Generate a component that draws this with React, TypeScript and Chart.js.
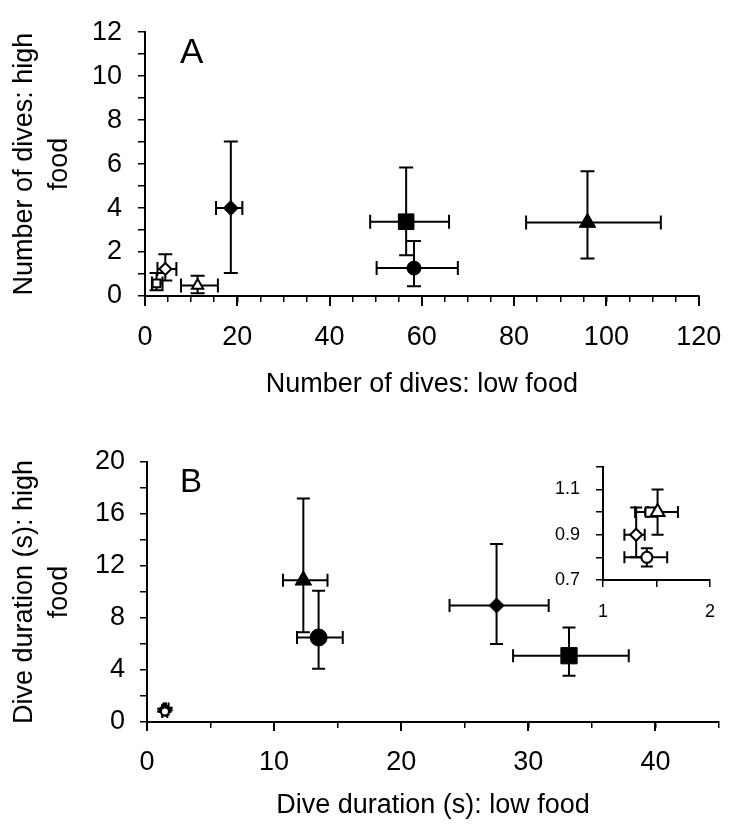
import React, { useEffect, useRef } from 'react';
import { Chart, registerables } from 'chart.js';

Chart.register(...registerables);

const FONT = "'Liberation Sans', Arial, Helvetica, sans-serif";

// ---------- Panel A: number of dives ----------
// order: filled square, filled circle, filled triangle, filled diamond, open square, open diamond, open triangle
const A_x = [56.6, 58.3, 95.9, 18.6, 2.5, 4.4, 11.4];
const A_xLo = [48.8, 50.2, 82.6, 15.4, 1.5, 2.7, 7.8];
const A_xHi = [65.9, 67.8, 111.8, 21.1, 3.8, 6.8, 15.8];
const A_y = [3.38, 1.27, 3.34, 4.0, 0.57, 1.23, 0.48];
const A_yLo = [1.85, 0.44, 1.71, 1.05, 0.26, 0.7, 0.13];
const A_yHi = [5.85, 2.5, 5.67, 7.03, 1.05, 1.9, 0.92];

// ---------- Panel B: dive duration (s) ----------
// order: filled triangle, filled circle, filled diamond, filled square, open square, open triangle, open diamond, open circle
const B_x = [12.3, 13.5, 27.5, 33.2, 1.44, 1.51, 1.31, 1.41];
const B_xLo = [10.7, 11.8, 23.8, 28.8, 1.3, 1.42, 1.2, 1.2];
const B_xHi = [14.2, 15.4, 31.6, 37.9, 1.5, 1.7, 1.39, 1.6];
const B_y = [10.9, 6.5, 8.96, 5.1, 1.0, 1.0, 0.9, 0.8];
const B_yLo = [6.9, 4.1, 6.0, 3.55, 0.99, 0.9, 0.8, 0.76];
const B_yHi = [17.2, 10.1, 13.7, 7.26, 1.01, 1.1, 1.02, 0.84];

// inset shows the open-symbol groups of panel B (indices 4..7)
const INSET_IDX = [4, 5, 6, 7];

// axis labels / titles
const A_xTitle = 'Number of dives: low food';
const A_yTitle = ['Number of dives: high', 'food'];
const B_xTitle = 'Dive duration (s): low food';
const B_yTitle = ['Dive duration (s): high', 'food'];

// ---------- styles ----------
const A_style = {
  shape: ['rect', 'circle', 'triangle', 'rectRot', 'rect', 'rectRot', 'triangle'],
  radius: [11, 7, 9.5, 7.5, 5.5, 6, 6.5],
  fill: ['#000', '#000', '#000', '#000', '#fff', '#fff', '#fff'],
  border: [1, 1, 1, 1, 2, 2, 2],
};
const B_style = {
  shape: ['triangle', 'circle', 'rectRot', 'rect', 'rect', 'triangle', 'rectRot', 'circle'],
  radius: [9.5, 8.5, 7.5, 11.5, 4, 4, 4, 4],
  fill: ['#000', '#000', '#000', '#000', '#fff', '#fff', '#fff', '#fff'],
  border: [1, 1, 1, 1, 2, 2, 2, 2],
};
const I_style = {
  shape: ['rect', 'triangle', 'rectRot', 'circle'],
  radius: [6.5, 8, 6, 5.5],
  fill: ['#fff', '#fff', '#fff', '#fff'],
  border: [2, 2, 2, 2],
};

type Pt = { x: number; y: number; xMin: number; xMax: number; yMin: number; yMax: number };

function points(x: number[], xLo: number[], xHi: number[], y: number[], yLo: number[], yHi: number[], idx?: number[]): Pt[] {
  const ids = idx ?? x.map((_, i) => i);
  return ids.map((i) => ({ x: x[i], y: y[i], xMin: xLo[i], xMax: xHi[i], yMin: yLo[i], yMax: yHi[i] }));
}

const errorBars = {
  id: 'errorBars',
  beforeDatasetsDraw(chart: any, _args: any, opts: any) {
    const { ctx } = chart;
    const xs = chart.scales.x;
    const ys = chart.scales.y;
    const cap = opts.cap ?? 6.5;
    ctx.save();
    ctx.strokeStyle = '#000';
    ctx.lineWidth = opts.lineWidth ?? 2;
    ctx.lineCap = 'butt';
    chart.data.datasets.forEach((ds: any) => {
      ds.data.forEach((p: Pt) => {
        const px = xs.getPixelForValue(p.x);
        const py = ys.getPixelForValue(p.y);
        const x1 = xs.getPixelForValue(p.xMin);
        const x2 = xs.getPixelForValue(p.xMax);
        const y1 = ys.getPixelForValue(p.yMin);
        const y2 = ys.getPixelForValue(p.yMax);
        ctx.beginPath();
        // horizontal
        ctx.moveTo(x1, py);
        ctx.lineTo(x2, py);
        ctx.moveTo(x1, py - cap);
        ctx.lineTo(x1, py + cap);
        ctx.moveTo(x2, py - cap);
        ctx.lineTo(x2, py + cap);
        // vertical
        ctx.moveTo(px, y1);
        ctx.lineTo(px, y2);
        ctx.moveTo(px - cap, y1);
        ctx.lineTo(px + cap, y1);
        ctx.moveTo(px - cap, y2);
        ctx.lineTo(px + cap, y2);
        ctx.stroke();
      });
    });
    ctx.restore();
  },
};

const extras = {
  id: 'extras',
  afterDraw(chart: any, _args: any, opts: any) {
    const { ctx } = chart;
    const xs = chart.scales.x;
    const ys = chart.scales.y;
    ctx.save();
    if (opts.majorStep) {
      ctx.strokeStyle = '#000';
      ctx.lineWidth = 2;
      xs.ticks.forEach((t: any) => {
        const r = t.value / opts.majorStep;
        if (Math.abs(r - Math.round(r)) < 1e-6) {
          const px = Math.round(xs.getPixelForValue(t.value));
          ctx.beginPath();
          ctx.moveTo(px, xs.top);
          ctx.lineTo(px, xs.top + opts.majorLen);
          ctx.stroke();
        }
      });
    }
    if (opts.label) {
      ctx.fillStyle = '#000';
      ctx.font = `${opts.labelSize}px ${FONT}`;
      ctx.textAlign = 'left';
      ctx.textBaseline = 'alphabetic';
      ctx.fillText(opts.label, xs.getPixelForValue(opts.labelX), ys.getPixelForValue(opts.labelY));
    }
    ctx.restore();
  },
};

function dataset(data: Pt[], st: any) {
  return {
    data,
    pointStyle: st.shape,
    pointRadius: st.radius,
    pointHoverRadius: st.radius,
    pointBackgroundColor: st.fill,
    pointBorderColor: '#000',
    pointBorderWidth: st.border,
    pointHoverBorderWidth: st.border,
    showLine: false,
    clip: false as any,
  };
}

function mkAxis(o: {
  min: number; max: number; step: number; tickLen: number; pad: number; size: number;
  label: (v: number) => string; fit: (s: any) => void; title?: string | string[]; titleSize?: number;
  titlePad?: any; titleLH?: number;
}) {
  return {
    type: 'linear',
    min: o.min,
    max: o.max,
    afterFit: o.fit,
    border: { display: true, color: '#000', width: 2 },
    grid: {
      display: true,
      drawOnChartArea: false,
      drawTicks: true,
      tickLength: o.tickLen,
      color: '#000',
      lineWidth: 1.5,
      tickColor: '#000',
      tickWidth: 1.5,
    },
    ticks: {
      stepSize: o.step,
      maxTicksLimit: 200,
      autoSkip: false,
      maxRotation: 0,
      minRotation: 0,
      padding: o.pad,
      color: '#000',
      font: { family: FONT, size: o.size, lineHeight: 1.2 },
      callback: (v: any) => o.label(Number(v)),
    },
    title: o.title
      ? {
          display: true,
          text: o.title,
          color: '#000',
          font: { family: FONT, size: o.titleSize ?? 27, lineHeight: o.titleLH ?? 1.2 },
          padding: o.titlePad,
        }
      : { display: false },
  };
}

const isMult = (v: number, m: number) => Math.abs(v / m - Math.round(v / m)) < 1e-6;

export default function App() {
  const aRef = useRef<HTMLCanvasElement>(null);
  const bRef = useRef<HTMLCanvasElement>(null);
  const iRef = useRef<HTMLCanvasElement>(null);

  useEffect(() => {
    const charts: Chart[] = [];

    // ---------- Panel A ----------
    charts.push(
      new Chart(aRef.current as HTMLCanvasElement, {
        type: 'scatter',
        data: { datasets: [dataset(points(A_x, A_xLo, A_xHi, A_y, A_yLo, A_yHi), A_style) as any] },
        plugins: [errorBars, extras],
        options: {
          responsive: false,
          animation: false,
          events: [],
          layout: { padding: { left: 0, top: 23, right: 28, bottom: 0 } },
          plugins: {
            legend: { display: false },
            tooltip: { enabled: false },
            errorBars: { cap: 7, lineWidth: 2 },
            extras: { majorStep: 20, majorLen: 10, label: 'A', labelSize: 35, labelX: 7.6, labelY: 10.6 },
          } as any,
          scales: {
            x: mkAxis({
              min: 0, max: 120, step: 5, tickLen: 6, pad: 19.8, size: 27,
              label: (v) => (isMult(v, 20) ? String(v) : ''),
              fit: (s) => { s.height = 124; },
              title: A_xTitle, titlePad: { top: 0, bottom: 18.8 },
            }),
            y: mkAxis({
              min: 0, max: 12, step: 1, tickLen: 7, pad: 16, size: 27,
              label: (v) => (isMult(v, 2) ? String(v) : ''),
              fit: (s) => { s.width = 145; },
              title: A_yTitle, titlePad: { top: 6.5, bottom: 0 }, titleLH: 1.3,
            }),
          } as any,
        },
      } as any)
    );

    // ---------- Panel B ----------
    charts.push(
      new Chart(bRef.current as HTMLCanvasElement, {
        type: 'scatter',
        data: { datasets: [dataset(points(B_x, B_xLo, B_xHi, B_y, B_yLo, B_yHi), B_style) as any] },
        plugins: [errorBars, extras],
        options: {
          responsive: false,
          animation: false,
          events: [],
          layout: { padding: { left: 0, top: 32, right: 22, bottom: 0 } },
          plugins: {
            legend: { display: false },
            tooltip: { enabled: false },
            errorBars: { cap: 6.5, lineWidth: 2 },
            extras: { majorStep: 10, majorLen: 9, label: 'B', labelSize: 33, labelX: 2.6, labelY: 17.7 },
          } as any,
          scales: {
            x: mkAxis({
              min: 0, max: 45, step: 5, tickLen: 6, pad: 18.8, size: 27,
              label: (v) => (isMult(v, 10) && v <= 40 ? String(v) : ''),
              fit: (s) => { s.height = 106; },
              title: B_xTitle, titlePad: { top: 0, bottom: 5.8 },
            }),
            y: mkAxis({
              min: 0, max: 20, step: 2, tickLen: 7, pad: 15, size: 27,
              label: (v) => (isMult(v, 4) ? String(v) : ''),
              fit: (s) => { s.width = 147; },
              title: B_yTitle, titlePad: { top: 6.5, bottom: 0 }, titleLH: 1.3,
            }),
          } as any,
        },
      } as any)
    );

    // ---------- Inset of panel B ----------
    charts.push(
      new Chart(iRef.current as HTMLCanvasElement, {
        type: 'scatter',
        data: { datasets: [dataset(points(B_x, B_xLo, B_xHi, B_y, B_yLo, B_yHi, INSET_IDX), I_style) as any] },
        plugins: [errorBars],
        options: {
          responsive: false,
          animation: false,
          events: [],
          layout: { padding: { left: 0, top: 21, right: 30, bottom: 0 } },
          plugins: {
            legend: { display: false },
            tooltip: { enabled: false },
            errorBars: { cap: 6, lineWidth: 2 },
          } as any,
          scales: {
            x: mkAxis({
              min: 1, max: 2, step: 0.5, tickLen: 7, pad: 14, size: 18,
              label: (v) => (isMult(v, 1) ? String(Math.round(v)) : ''),
              fit: (s) => { s.height = 50; },
            }),
            y: mkAxis({
              min: 0.7, max: 1.2, step: 0.1, tickLen: 7, pad: 16, size: 18,
              label: (v) => (Math.round(v * 10) % 2 === 1 ? v.toFixed(1) : ''),
              fit: (s) => { s.width = 63; },
            }),
          } as any,
        },
      } as any)
    );

    return () => charts.forEach((c) => c.destroy());
  }, []);

  return (
    <div style={{ position: 'fixed', left: 0, top: 0, width: 741, height: 828, background: '#fff' }}>
      <canvas ref={aRef} width={741} height={420} style={{ position: 'absolute', left: 0, top: 0 }} />
      <canvas ref={bRef} width={741} height={398} style={{ position: 'absolute', left: 0, top: 430 }} />
      <canvas ref={iRef} width={200} height={190} style={{ position: 'absolute', left: 540, top: 440 }} />
    </div>
  );
}
